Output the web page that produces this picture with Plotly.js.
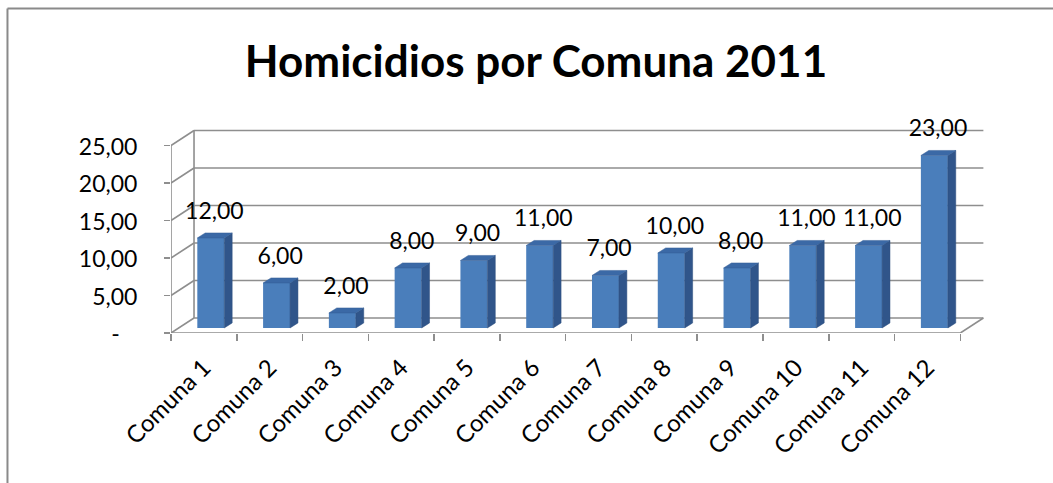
<!DOCTYPE html>
<html>
<head>
<meta charset="utf-8">
<script src="https://cdn.plot.ly/plotly-3.0.1.min.js"></script>
<style>html,body{margin:0;padding:0;background:#fff;}#chart{width:1053px;height:483px;}</style>
</head>
<body>
<div id="chart"></div>
<script>
// ---- data ----
const categories = ["Comuna 1","Comuna 2","Comuna 3","Comuna 4","Comuna 5","Comuna 6","Comuna 7","Comuna 8","Comuna 9","Comuna 10","Comuna 11","Comuna 12"];
const homicidios = [12, 6, 2, 8, 9, 11, 7, 10, 8, 11, 11, 23];
const yTickValues = [0, 5, 10, 15, 20, 25];
const yTickLabels = ["-\u00a0\u00a0\u00a0", "5,00", "10,00", "15,00", "20,00", "25,00"];
const chartTitle = "Homicidios por Comuna 2011";

// ---- pseudo-3D geometry (in axis units) ----
const WALL_DX = 0.35, WALL_DY = 2.0;    // depth of the back wall
const BAR_DX = 0.12, BAR_DY = 0.67;     // depth of each bar
const BAR_FY = 0.67;                    // bar front face sits this far "in"
const BAR_L = -0.10, BAR_W = 0.41;      // front face left offset & width
const LABEL_DX = 0.16, LABEL_DY = 4.0;

const n = categories.length;
const xs = categories.map((_, i) => i);
const fmt = v => v.toFixed(2).replace('.', ',');

// side & top faces
const sideX = [], sideY = [], topX = [], topY = [];
homicidios.forEach((v, i) => {
  const r = i + BAR_L + BAR_W, l = i + BAR_L;
  sideX.push(r, r, r + BAR_DX, r + BAR_DX, r, null);
  sideY.push(BAR_FY, v + BAR_FY, v + BAR_FY + BAR_DY, BAR_FY + BAR_DY, BAR_FY, null);
  topX.push(l, r, r + BAR_DX, l + BAR_DX, l, null);
  topY.push(v + BAR_FY, v + BAR_FY, v + BAR_FY + BAR_DY, v + BAR_FY + BAR_DY, v + BAR_FY, null);
});

const traces = [
  {type: 'bar', x: xs, y: homicidios, base: homicidios.map(() => BAR_FY),
   offset: BAR_L, width: BAR_W,
   marker: {color: '#4A7EBB', line: {width: 0}}, hoverinfo: 'skip', showlegend: false},
  {type: 'scatter', mode: 'lines', x: sideX, y: sideY, fill: 'toself', fillcolor: '#30558A',
   line: {width: 0.5, color: '#2C4E7E'}, hoverinfo: 'skip', showlegend: false},
  {type: 'scatter', mode: 'lines', x: topX, y: topY, fill: 'toself', fillcolor: '#3B69A6',
   line: {width: 0.5, color: '#355F96'}, hoverinfo: 'skip', showlegend: false},
  {type: 'scatter', mode: 'text', x: xs.map(i => i + LABEL_DX), y: homicidios.map(v => v + LABEL_DY),
   text: homicidios.map(fmt), textposition: 'middle center', cliponaxis: false,
   textfont: {family: 'Lato, sans-serif', size: 23, color: '#000'},
   hoverinfo: 'skip', showlegend: false},
  // invisible trace on xaxis2 to hold category boundary ticks
  {type: 'scatter', mode: 'markers', x: [0], y: [0], xaxis: 'x2', marker: {opacity: 0},
   hoverinfo: 'skip', showlegend: false}
];

const gridColor = '#8E8E8E';
const shapes = [];
const line = (x0, y0, x1, y1) => shapes.push({type: 'line', xref: 'x', yref: 'y', x0, y0, x1, y1,
  layer: 'below', line: {color: gridColor, width: 1.6}});
const xL = -0.5, xR = n - 0.5;
// floor
line(xL, 0, xR, 0);
line(xR, 0, xR + WALL_DX, WALL_DY);
line(xL, 0, xL + WALL_DX, WALL_DY);
line(xL + WALL_DX, WALL_DY, xR + WALL_DX, WALL_DY);
// left front axis & back-left edge
line(xL, 0, xL, yTickValues[yTickValues.length - 1]);
line(xL + WALL_DX, WALL_DY, xL + WALL_DX, yTickValues[yTickValues.length - 1] + WALL_DY);
// gridlines
yTickValues.forEach(v => {
  if (v === 0) return;
  line(xL, v, xL + WALL_DX, v + WALL_DY);
  line(xL + WALL_DX, v + WALL_DY, xR + WALL_DX, v + WALL_DY);
});
// chart border (top & left)
shapes.push({type: 'line', xref: 'paper', yref: 'paper', x0: -0.2004, x1: 1.2, y0: 1.5676, y1: 1.5676,
  line: {color: '#8A8A8A', width: 2}});
shapes.push({type: 'line', xref: 'paper', yref: 'paper', x0: -0.2004, x1: -0.2004, y0: 1.5676, y1: -1,
  line: {color: '#8A8A8A', width: 2}});

const xRange = [-0.5, -0.5 + 816 / 65.78];
const layout = {
  width: 1053, height: 483,
  margin: {l: 171, r: 66, t: 126, b: 150, pad: 0},
  paper_bgcolor: '#fff', plot_bgcolor: 'rgba(0,0,0,0)',
  font: {family: 'Lato, sans-serif', color: '#000'},
  title: {text: '<b>' + chartTitle + '</b>', font: {family: 'Lato, sans-serif', size: 44, color: '#000'},
    x: 536 / 1053, xanchor: 'center', xref: 'container', y: 1 - 62 / 483, yanchor: 'middle', yref: 'container'},
  showlegend: false,
  xaxis: {range: xRange, tickvals: xs, ticktext: categories, tickangle: -45,
    ticks: '', showgrid: false, zeroline: false, showline: false,
    tickfont: {family: 'Lato, sans-serif', size: 24, color: '#000'}, ticklabelstandoff: 15, fixedrange: true},
  xaxis2: {overlaying: 'x', range: xRange, tickvals: Array.from({length: n + 1}, (_, i) => i - 0.5),
    showticklabels: false, ticks: 'outside', ticklen: 7, tickcolor: gridColor, tickwidth: 1.6,
    showgrid: false, zeroline: false, showline: false, side: 'bottom', anchor: 'y', fixedrange: true},
  yaxis: {range: [0, 207 / 7.5], tickvals: yTickValues, ticktext: yTickLabels,
    ticks: 'outside', ticklen: 6, tickcolor: gridColor, tickwidth: 1.6,
    showgrid: false, zeroline: false, showline: false, ticklabelstandoff: 22, ticklabelshift: 1,
    tickfont: {family: 'Lato, sans-serif', size: 23, color: '#000'}, fixedrange: true},
  shapes: shapes
};

Plotly.newPlot('chart', traces, layout, {displayModeBar: false, staticPlot: true});
</script>
</body>
</html>
